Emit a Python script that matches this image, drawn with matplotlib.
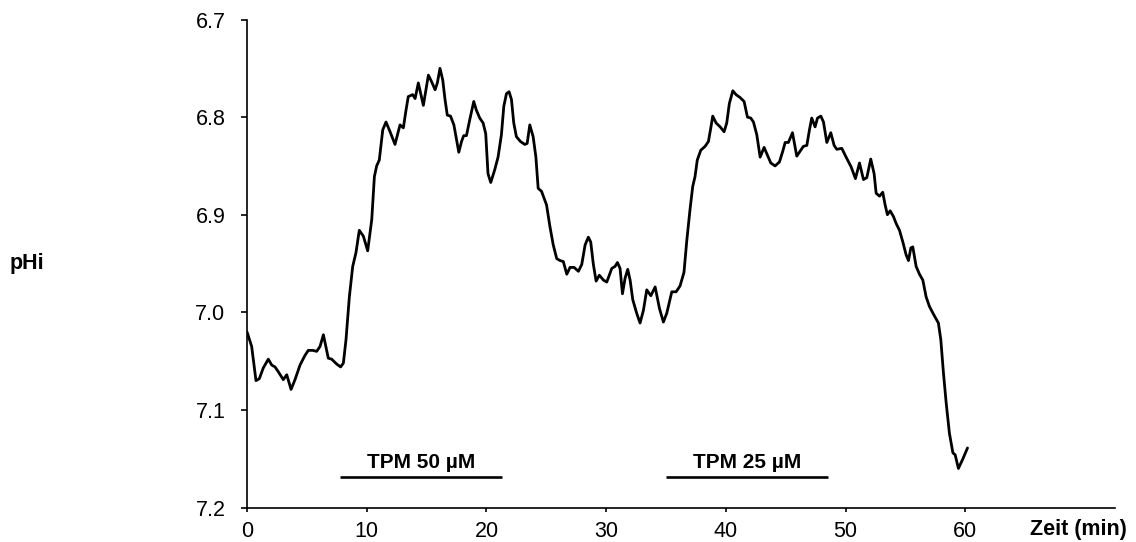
import matplotlib
matplotlib.use("Agg")
import matplotlib.pyplot as plt

plt.rcParams["font.family"] = ["Liberation Sans", "DejaVu Sans"]

# Intracellular pH over time (minutes)
zeit = [
    0.00, 0.39, 0.75, 1.03, 1.36, 1.78, 2.06, 2.34, 2.62, 3.03, 3.32, 3.68,
    4.01, 4.43, 4.85, 5.12, 5.49, 5.82, 6.10, 6.38, 6.79, 7.07, 7.49, 7.82,
    8.05, 8.27, 8.55, 8.83, 9.10, 9.38, 9.72, 10.08, 10.42, 10.64, 10.83,
    11.05, 11.34, 11.61, 11.95, 12.36, 12.78, 13.06, 13.28, 13.47, 13.84,
    14.04, 14.31, 14.51, 14.73, 15.15, 15.43, 15.71, 15.90, 16.12, 16.35,
    16.54, 16.73, 17.00, 17.28, 17.50, 17.69, 17.92, 18.10, 18.33, 18.60,
    18.94, 19.16, 19.44, 19.72, 19.94, 20.13, 20.36, 20.69, 20.97, 21.25,
    21.45, 21.67, 21.89, 22.09, 22.28, 22.50, 22.84, 23.20, 23.40, 23.62,
    23.90, 24.13, 24.32, 24.60, 25.02, 25.30, 25.58, 25.87, 26.15, 26.42,
    26.71, 26.98, 27.32, 27.68, 27.96, 28.24, 28.51, 28.71, 28.93, 29.16,
    29.43, 29.77, 30.05, 30.47, 30.74, 30.94, 31.16, 31.36, 31.58, 31.80,
    32.00, 32.22, 32.55, 32.83, 33.11, 33.39, 33.73, 34.09, 34.45, 34.78,
    35.06, 35.48, 35.84, 36.17, 36.50, 36.73, 37.00, 37.23, 37.42, 37.61,
    37.90, 38.26, 38.54, 38.74, 38.90, 39.18, 39.52, 39.85, 40.07, 40.29,
    40.58, 40.85, 41.19, 41.52, 41.80, 42.08, 42.30, 42.58, 42.86, 43.19,
    43.47, 43.75, 44.11, 44.47, 44.75, 44.95, 45.22, 45.56, 45.92, 46.20,
    46.47, 46.76, 46.98, 47.17, 47.45, 47.65, 47.93, 48.15, 48.43, 48.76,
    49.04, 49.26, 49.68, 50.04, 50.46, 50.82, 51.16, 51.49, 51.77, 52.10,
    52.38, 52.55, 52.83, 53.10, 53.30, 53.49, 53.72, 54.00, 54.22, 54.50,
    54.78, 55.05, 55.25, 55.45, 55.61, 55.89, 56.17, 56.45, 56.72, 57.00,
    57.34, 57.75, 57.95, 58.17, 58.40, 58.67, 58.96, 59.15, 59.42, 59.80,
    60.18,
]
phi = [
    7.020, 7.035, 7.070, 7.068, 7.057, 7.048, 7.054, 7.056, 7.061, 7.069, 7.064, 7.079,
    7.069, 7.054, 7.044, 7.039, 7.039, 7.040, 7.035, 7.023, 7.047, 7.048, 7.053, 7.056,
    7.052, 7.028, 6.984, 6.953, 6.939, 6.916, 6.922, 6.937, 6.905, 6.861, 6.850,
    6.844, 6.813, 6.805, 6.815, 6.828, 6.808, 6.811, 6.793, 6.779, 6.777,
    6.781, 6.765, 6.776, 6.788, 6.757, 6.764, 6.772, 6.765, 6.750, 6.762,
    6.782, 6.798, 6.799, 6.808, 6.823, 6.836, 6.825, 6.819, 6.819, 6.803,
    6.784, 6.793, 6.801, 6.806, 6.817, 6.858, 6.867, 6.854, 6.841, 6.818,
    6.789, 6.776, 6.774, 6.782, 6.806, 6.820, 6.825, 6.828, 6.827, 6.808,
    6.820, 6.841, 6.873, 6.876, 6.890, 6.912, 6.931, 6.945, 6.947, 6.948,
    6.961, 6.954, 6.954, 6.958, 6.951, 6.931, 6.923, 6.928, 6.951, 6.968,
    6.962, 6.967, 6.969, 6.955, 6.953, 6.949, 6.955, 6.981, 6.965, 6.956,
    6.967, 6.987, 7.001, 7.011, 6.998, 6.977, 6.983, 6.974, 6.996, 7.010,
    7.001, 6.979, 6.979, 6.973, 6.959, 6.927, 6.895, 6.871, 6.861, 6.844,
    6.834, 6.830, 6.825, 6.811, 6.799, 6.806, 6.810, 6.815, 6.806, 6.786,
    6.773, 6.777, 6.780, 6.784, 6.800, 6.801, 6.805, 6.818, 6.841, 6.831,
    6.839, 6.847, 6.850, 6.846, 6.835, 6.826, 6.826, 6.816, 6.840, 6.835,
    6.830, 6.829, 6.813, 6.801, 6.810, 6.801, 6.799, 6.805, 6.826, 6.816,
    6.829, 6.833, 6.832, 6.841, 6.851, 6.863, 6.847, 6.864, 6.862, 6.843,
    6.858, 6.878, 6.881, 6.877, 6.890, 6.900, 6.896, 6.902, 6.909, 6.916,
    6.928, 6.941, 6.947, 6.934, 6.933, 6.953, 6.961, 6.967, 6.984, 6.994,
    7.002, 7.011, 7.028, 7.062, 7.093, 7.124, 7.144, 7.146, 7.160, 7.150,
    7.139,
]

# Treatment periods
behandlung_namen = ["TPM 50 µM", "TPM 25 µM"]
behandlung_start = [7.75, 35.0]
behandlung_ende = [21.3, 48.5]

x_ticks = [0, 10, 20, 30, 40, 50, 60]
y_ticks = [6.7, 6.8, 6.9, 7.0, 7.1, 7.2]

fig = plt.figure(figsize=(11.36, 5.42), dpi=100)
ax = fig.add_axes([247 / 1136, 1 - 507.5 / 542, (1115 - 247) / 1136, (507.5 - 19.5) / 542])

ax.plot(zeit, phi, color="black", lw=2.0, solid_joinstyle="round", solid_capstyle="round")

ax.set_xlim(0, 72.5)
ax.set_ylim(7.2, 6.7)
ax.set_xticks(x_ticks)
ax.set_yticks(y_ticks)
ax.set_yticklabels([f"{v:.1f}" for v in y_ticks])

for s in ("top", "right"):
    ax.spines[s].set_visible(False)
for s in ("left", "bottom"):
    ax.spines[s].set_linewidth(1.2)
    ax.spines[s].set_clip_on(False)

ax.tick_params(axis="y", direction="out", length=4.5, width=1.2, pad=11, labelsize=15.5)
ax.tick_params(axis="x", direction="out", length=3, width=1.2, pad=7, labelsize=15.5)

for name, a, b in zip(behandlung_namen, behandlung_start, behandlung_ende):
    ax.plot([a, b], [7.169, 7.169], color="black", lw=1.9, solid_capstyle="butt", clip_on=False)
    ax.text((a + b) / 2, 7.154, name, ha="center", va="center",
            fontsize=15, fontweight="bold")

fig.text(27 / 1136, 1 - 263 / 542, "pHi", ha="center", va="center",
         fontsize=15.5, fontweight="bold")
fig.text(1078 / 1136, 1 - 529 / 542, "Zeit (min)", ha="center", va="center",
         fontsize=15.5, fontweight="bold")

fig.savefig("out.png", dpi=100)
